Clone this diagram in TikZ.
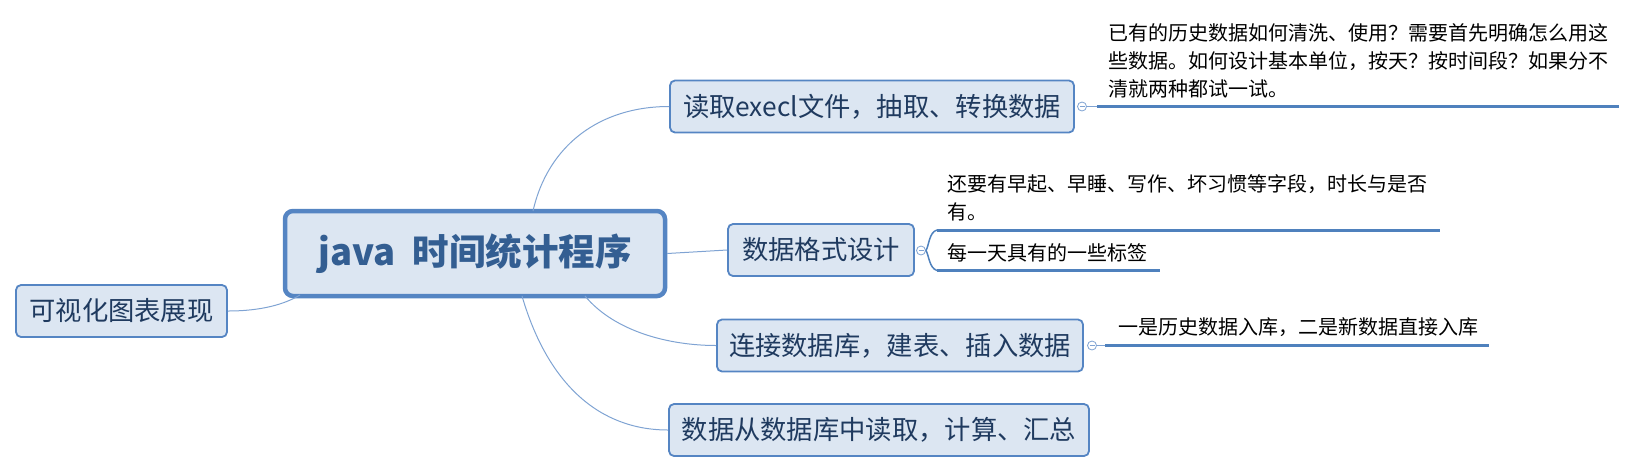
\documentclass[tikz,border=0pt]{standalone}
\usepackage{fontspec}
\setmainfont{Noto Sans CJK SC}
\definecolor{nodefill}{HTML}{DCE6F2}
\definecolor{nodeborder}{HTML}{5585C3}
\definecolor{nodetext}{HTML}{1F3A5F}
\definecolor{maintext}{HTML}{335E92}
\definecolor{conn}{HTML}{7FA3D3}
\definecolor{noteline}{HTML}{4F81BD}
\begin{document}
\begin{tikzpicture}[x=1pt,y=-1pt,
  topic/.style={draw=nodeborder, fill=nodefill, line width=1.8pt, rounded corners=5pt,
    text=nodetext, font=\fontsize{26.3}{30}\selectfont, minimum height=52pt, inner sep=0pt},
  central/.style={draw=nodeborder, fill=nodefill, line width=4.5pt, rounded corners=8pt,
    text=maintext, font=\fontsize{36.5}{40}\selectfont\bfseries, minimum width=380pt,
    minimum height=85pt, inner sep=0pt},
  conline/.style={draw=conn, line width=1pt},
  noteln/.style={draw=noteline, line width=3pt},
  notetext/.style={font=\fontsize{20}{28}\selectfont, align=left, inner sep=0pt, anchor=west, text=black},
  marker/.style={circle, draw=conn, fill=white, line width=0.8pt, minimum size=9pt, inner sep=0pt}
]
\useasboundingbox (0,0) rectangle (1638,475);

% central and topics
\node[central] (c) at (475,253.5) {java\ \ 时间统计程序};
\node[topic, minimum width=211pt] (vis) at (121.5,311) {可视化图表展现};
\node[topic, minimum width=404pt] (read) at (872,106.5) {读取execl文件，抽取、转换数据};
\node[topic, minimum width=186pt] (fmt) at (821,250) {数据格式设计};
\node[topic, minimum width=366pt] (db) at (900,345.5) {连接数据库，建表、插入数据};
\node[topic, minimum width=420pt] (calc) at (879,430) {数据从数据库中读取，计算、汇总};

% connectors from central
\coordinate (cTop) at (533,211);
\coordinate (cBotR) at (585,296);
\coordinate (cBotM) at (522,296);
\coordinate (cBotL) at (300,295);
\draw[conline] (cTop) .. controls (548,145) and (600,106.5) .. (read.west);
\draw[conline] (c.east) -- (fmt.west);
\draw[conline] (cBotR) .. controls (615,332) and (670,345.5) .. (db.west);
\draw[conline] (cBotM) .. controls (548,385) and (600,430) .. (calc.west);
\draw[conline] (vis.east) .. controls (262,311) and (285,304) .. (cBotL);

% markers
\node[marker] (m1) at (1082,106.5) {};
\node[marker] (m2) at (921,250.5) {};
\node[marker] (m3) at (1092,345.5) {};
\foreach \m in {m1,m2,m3}{
  \draw[draw=conn, line width=0.7pt] ([xshift=-2.5pt]\m.center) -- ([xshift=2.5pt]\m.center);
}

% note 1
\coordinate (n1a) at (1097,106.5);
\coordinate (n1b) at (1619,106.5);
\draw[conline] (m1.east) -- (n1a);
\draw[noteln] (n1a) -- (n1b);
\node[notetext] (t1) at (1108,61) {已有的历史数据如何清洗、使用？需要首先明确怎么用这\\些数据。如何设计基本单位，按天？按时间段？如果分不\\清就两种都试一试。};

% note 2 (two branches)
\coordinate (n2a) at (937,230);
\coordinate (n2b) at (1440,230);
\coordinate (n3a) at (937,270.5);
\coordinate (n3b) at (1160,270.5);
\draw[conline, line width=1.5pt, draw=noteline] (n2a) .. controls (929,232) and (929,246) .. (m2.east);
\draw[conline, line width=1.5pt, draw=noteline] (m2.east) .. controls (929,255) and (929,268) .. (n3a);
\draw[noteln] (n2a) -- (n2b);
\draw[noteln] (n3a) -- (n3b);
\node[notetext] (t2) at (947,198) {还要有早起、早睡、写作、坏习惯等字段，时长与是否\\有。};
\node[notetext] (t3) at (947,253) {每一天具有的一些标签};

% note 3
\coordinate (n4a) at (1105,345.5);
\coordinate (n4b) at (1489,345.5);
\draw[conline] (m3.east) -- (n4a);
\draw[noteln] (n4a) -- (n4b);
\node[notetext] (t4) at (1118,327) {一是历史数据入库，二是新数据直接入库};
\end{tikzpicture}
\end{document}
